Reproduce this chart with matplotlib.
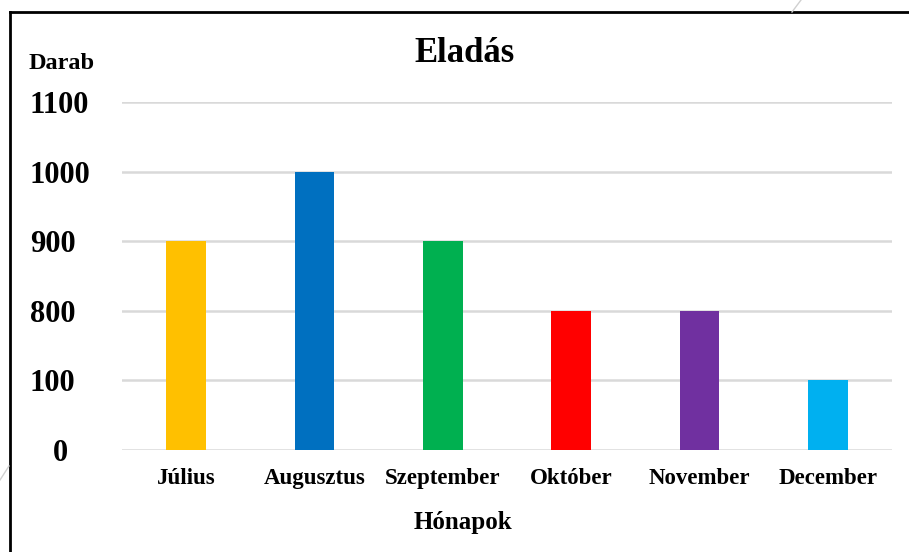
import numpy as np
import matplotlib.pyplot as plt
import matplotlib.transforms as mtransforms
from matplotlib.lines import Line2D
from matplotlib.scale import FuncScale

months = ["Július", "Augusztus", "Szeptember", "Október", "November", "December"]
sales = [900, 1000, 900, 800, 800, 100]
tick_values = [0, 100, 800, 900, 1000, 1100]
bar_colors = ["#FFC000", "#0070C0", "#00B050", "#FF0000", "#7030A0", "#00B0F0"]

W, H = 909, 552
font = "Liberation Serif"

# the axis is not linear: every listed tick sits one step above the previous
steps = np.arange(len(tick_values))


def forward(v):
    return np.interp(v, tick_values, steps)


def inverse(s):
    return np.interp(s, steps, tick_values)


fig = plt.figure(figsize=(W / 100, H / 100), dpi=100)
fig.patch.set_facecolor("white")

ax = fig.add_axes([122 / W, (H - 450) / H, (892 - 122) / W, (450 - 102) / H])
ax.set_yscale(FuncScale(ax.yaxis, (forward, inverse)))

x = np.arange(len(months))
ax.bar(x, sales, width=0.31, color=bar_colors, zorder=3)

ax.set_ylim(0, 1100)
ax.set_xlim(-0.5, len(months) - 0.5)
ax.set_yticks(tick_values)
ax.yaxis.set_minor_locator(plt.NullLocator())
ax.set_xticks(x)
ax.set_xticklabels(months)

for lab in ax.get_xticklabels():
    lab.set_fontfamily(font)
    lab.set_fontweight("bold")
    lab.set_fontsize(16.5)

ax.tick_params(axis="y", length=0, labelleft=False)
ax.tick_params(axis="x", length=0, pad=13)
ax.grid(axis="y", color="#d9d9d9", linewidth=1.8, zorder=0)
for s in ax.spines.values():
    s.set_visible(False)

# y labels are typed left-aligned, the lone zero sits further right
ylab_trans = mtransforms.blended_transform_factory(fig.transFigure, ax.transData)
for v in tick_values:
    if v == 0:
        ax.text(60 / W, v, str(v), transform=ylab_trans, ha="center", va="center_baseline",
                fontfamily=font, fontweight="bold", fontsize=22)
    else:
        ax.text(30 / W, v, str(v), transform=ylab_trans, ha="left", va="center_baseline",
                fontfamily=font, fontweight="bold", fontsize=22)

fig.text(465 / W, 1 - 62 / H, "Eladás", ha="center", va="baseline",
         fontfamily=font, fontweight="bold", fontsize=25)
fig.text(62 / W, 1 - 69 / H, "Darab", ha="center", va="baseline",
         fontfamily=font, fontweight="bold", fontsize=17.5)
fig.text(463 / W, 1 - 529 / H, "Hónapok", ha="center", va="baseline",
         fontfamily=font, fontweight="bold", fontsize=18)

# slide frame and faint decoration lines
fig.add_artist(Line2D([10 / W, 10 / W], [0, 1 - 12 / H], color="black", lw=2))
fig.add_artist(Line2D([10 / W, 1], [1 - 12 / H, 1 - 12 / H], color="black", lw=2))
fig.add_artist(Line2D([792 / W, 801 / W], [1 - 12 / H, 1], color="#d0d0d0", lw=1))
fig.add_artist(Line2D([0, 9 / W], [1 - 480 / H, 1 - 466 / H], color="#d0d0d0", lw=1))

fig.savefig("out.png", dpi=100)
